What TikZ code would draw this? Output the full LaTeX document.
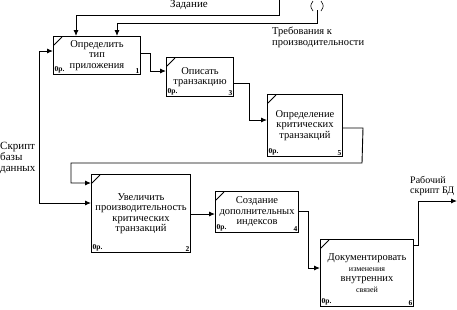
\documentclass[tikz,border=0pt]{standalone}
\usepackage{fontspec}
\setmainfont{Liberation Serif}
\usetikzlibrary{positioning,arrows.meta,calc}
\newcommand{\melkofont}{\fontsize{8}{9}\selectfont}

\begin{document}
\begin{tikzpicture}[
  x=1pt, y=-1pt,
  blok/.style={draw=black, line width=1pt, align=center, anchor=north west,
               inner sep=0pt, font=\fontsize{10.5}{10.5}\selectfont},
  metka/.style={font=\fontsize{7.5}{7.5}\selectfont\bfseries, inner sep=1.5pt},
  strelka/.style={-{Latex[length=6pt,width=5pt]}, line width=0.9pt},
  podpis/.style={font=\fontsize{10.5}{10.5}\selectfont, align=left, inner sep=0pt},
]
\useasboundingbox (0,0) rectangle (457,309);

% ---- Blocks
\node[blok, minimum width=87pt, minimum height=38pt] (b1) at (53,36) {Определить\\ тип\\ приложения};
\node[blok, minimum width=67pt, minimum height=39pt] (b3) at (166,57) {Описать\\ транзакцию};
\node[blok, minimum width=75pt, minimum height=62pt] (b5) at (267,94) {Определение\\ критических\\ транзакций};
\node[blok, minimum width=99pt, minimum height=78pt] (b2) at (91,174) {Увеличить\\ производительность\\ критических\\ транзакций};
\node[blok, minimum width=83pt, minimum height=41pt] (b4) at (215,191) {Создание\\ дополнительных\\ индексов};
\node[blok, minimum width=93pt, minimum height=67pt] (b6) at (320,239)
  {Документировать\\ {\melkofont изменения}\\ внутренних\\ {\melkofont связей}};

% ---- Corner marks, 0р. and numbers
\foreach \b/\n in {b1/1, b3/3, b5/5, b2/2, b4/4, b6/6} {
  \draw[line width=0.8pt] ($(\b.north west)+(1,9)$) -- ($(\b.north west)+(9,1)$);
  \node[metka, anchor=south west] (\b-op) at (\b.south west) {0р.};
  \node[metka, anchor=south east] (\b-nr) at (\b.south east) {\n};
}

% ---- Free ends
\coordinate (zadanie) at (279,0);
\coordinate (treb) at (317,10);
\coordinate (skript) at (39,172);
\coordinate (vyhod) at (457,201);

% ---- Labels
\node[podpis, font=\fontsize{11}{11}\selectfont] (l-zad) at (189,5) {Задание};
\node[podpis, anchor=north west] (l-treb) at (272,27) {Требования к\\ производительности};
\node[podpis, anchor=north west, font=\fontsize{11}{11}\selectfont] (l-skr) at (0,142) {Скрипт\\ базы\\ данных};
\node[podpis, anchor=north west, font=\fontsize{10}{10.5}\selectfont] (l-vyh) at (410,176) {Рабочий\\ скрипт БД};

% ---- Tunnel brackets
\draw[line width=0.6pt] (313,1) .. controls (310,6) .. (313,11);
\draw[line width=0.6pt] (321,1) .. controls (324,6) .. (321,11);

% ---- Connectors
\draw[strelka] (zadanie) -- (279,15) -| ($(b1.north west)+(23,0)$);
\draw[strelka] (treb) -- (317,23) -| ($(b1.north west)+(64,0)$);
\draw[strelka] (skript) |- ($(b1.north west)+(0,15)$);
\draw[strelka] (skript) |- ($(b2.north west)+(0,29)$);
\draw[strelka] ($(b1.north east)+(0,17)$) -- ++(9,0) |- ($(b3.north west)+(0,14)$);
\draw[strelka] ($(b3.north east)+(0,26)$) -- ++(15,0) |- ($(b5.north west)+(0,26)$);
\draw[strelka] ($(b5.north east)+(0,34)$) -- ++(20,0) -- (362,163) -- (71,163) |- ($(b2.north west)+(0,9)$);
\draw[strelka] ($(b2.north east)+(0,40)$) -- ($(b4.north west)+(0,23)$);
\draw[strelka] ($(b4.north east)+(0,20)$) -- ++(9,0) |- ($(b6.north west)+(0,29)$);
\draw[strelka] ($(b6.north east)+(0,6)$) -- ++(4,0) |- (vyhod);
\end{tikzpicture}
\end{document}
